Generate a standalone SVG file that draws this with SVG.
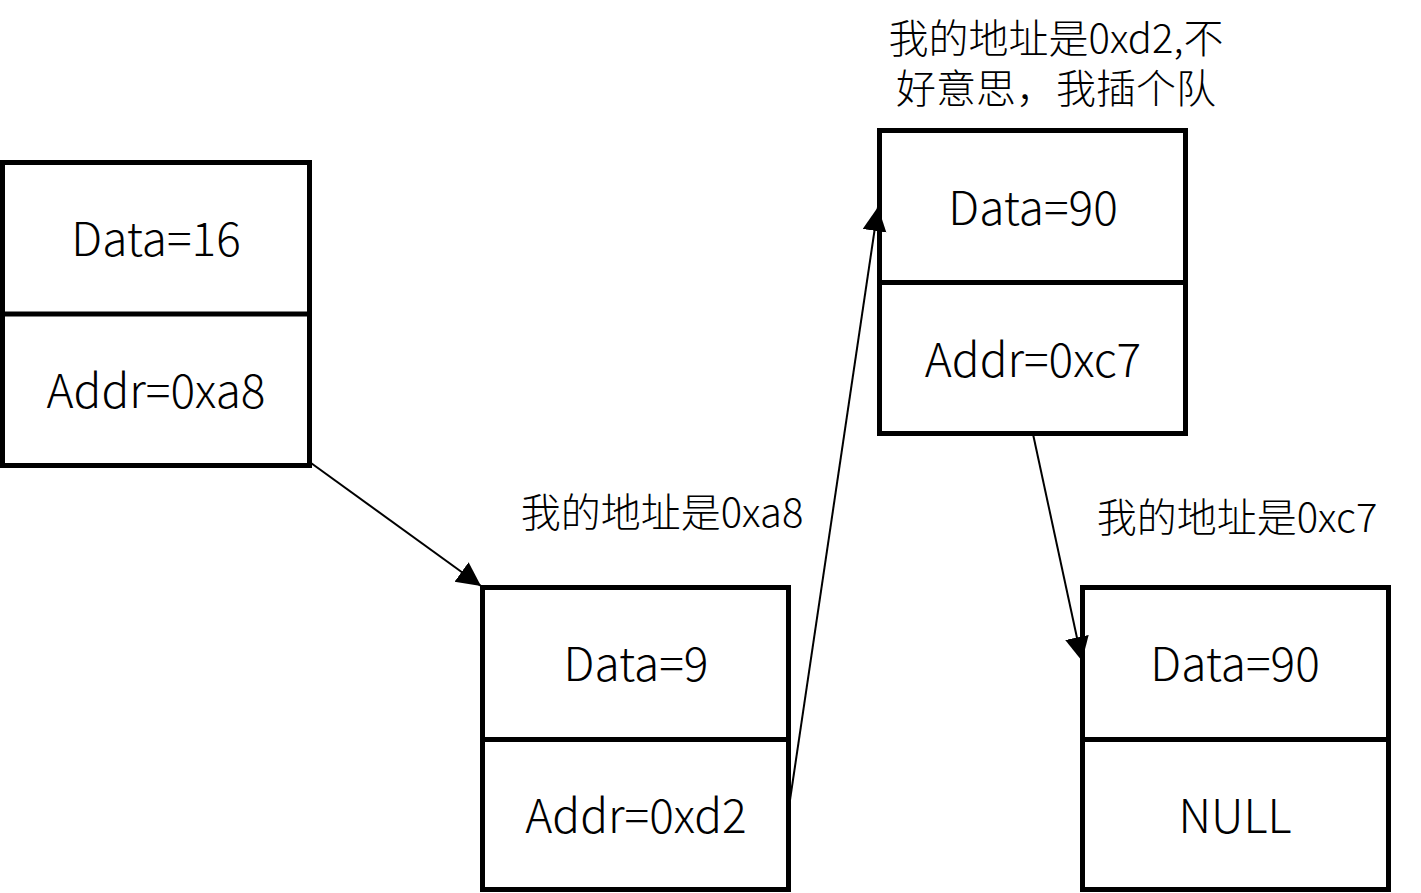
<svg xmlns="http://www.w3.org/2000/svg" width="1421" height="893" viewBox="0 0 1421 893">
<style>
.box{fill:#fff;stroke:#000;stroke-width:5}
.div{stroke:#000;stroke-width:5}
.t{font-family:"Noto Sans CJK SC","Noto Sans",sans-serif;font-size:46px;font-weight:300;fill:#000;text-anchor:middle}
.lbl{font-family:"Noto Sans CJK SC","Noto Sans",sans-serif;font-size:40px;font-weight:300;fill:#000;text-anchor:middle}
.conn{stroke:#000;stroke-width:2;fill:none}
</style>
<defs>
<marker id="ah" markerUnits="userSpaceOnUse" markerWidth="26" markerHeight="26" refX="24" refY="12" orient="auto">
<path d="M0,0 L24,12 L0,24 z" fill="#000"/>
</marker>
</defs>
<rect width="1421" height="893" fill="#fff"/>
<g id="node1">
<rect class="box" x="2.5" y="162.5" width="307" height="303"/>
<line class="div" x1="2.5" y1="314" x2="309.5" y2="314"/>
<text class="t" x="156" y="256">Data=16</text>
<text class="t" x="156" y="408">Addr=0xa8</text>
</g>
<g id="node2">
<rect class="box" x="482.5" y="587.5" width="306" height="302"/>
<line class="div" x1="482.5" y1="739.5" x2="788.5" y2="739.5"/>
<text class="t" x="636" y="681">Data=9</text>
<text class="t" x="636" y="833">Addr=0xd2</text>
<text class="lbl" x="662" y="527">我的地址是0xa8</text>
</g>
<g id="node3">
<rect class="box" x="879.5" y="130.5" width="306" height="303"/>
<line class="div" x1="879.5" y1="282.5" x2="1185.5" y2="282.5"/>
<text class="t" x="1033" y="225">Data=90</text>
<text class="t" x="1033" y="377">Addr=0xc7</text>
<text class="lbl"><tspan x="1056" y="53">我的地址是0xd2,不</tspan><tspan x="1056" y="103">好意思，我插个队</tspan></text>
</g>
<g id="node4">
<rect class="box" x="1082.5" y="587.5" width="306" height="302"/>
<line class="div" x1="1082.5" y1="739.5" x2="1388.5" y2="739.5"/>
<text class="t" x="1235" y="681">Data=90</text>
<text class="t" x="1235" y="833">NULL</text>
<text class="lbl" x="1237" y="532">我的地址是0xc7</text>
</g>
<g id="connectors">
<line class="conn" x1="311" y1="463" x2="481" y2="586" marker-end="url(#ah)"/>
<line class="conn" x1="790" y1="800" x2="878" y2="207" marker-end="url(#ah)"/>
<line class="conn" x1="1033" y1="434" x2="1082" y2="661" marker-end="url(#ah)"/>
</g>
</svg>
